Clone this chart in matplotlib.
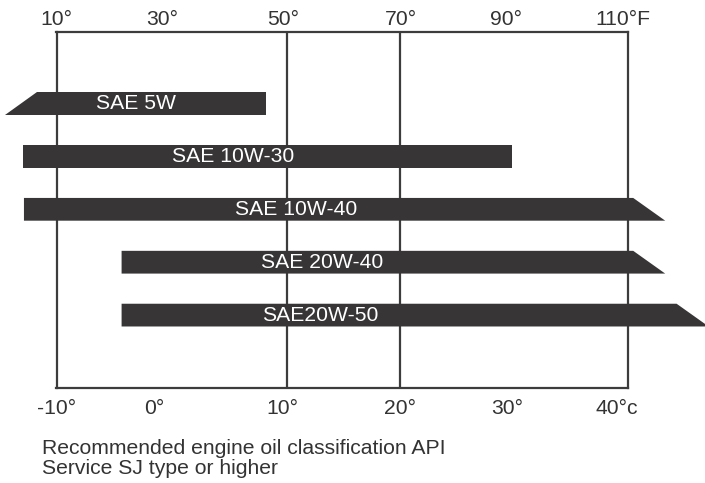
import matplotlib.pyplot as plt
from matplotlib.patches import Polygon

plt.rcParams['font.family'] = ['Liberation Sans', 'DejaVu Sans']

# oil grades and their temperature ranges (deg C)
grades = ['SAE 5W', 'SAE 10W-30', 'SAE 10W-40', 'SAE 20W-40', 'SAE20W-50']
t_low = [-11.7, -12.9, -12.85, -4.3, -4.3]
t_high = [8.35, 29.9, 40.5, 40.5, 44.3]
open_left = [True, False, False, False, False]
open_right = [False, False, True, True, True]

c_labels = ['-10°', '0°', '10°', '20°', '30°', '40°c']
f_labels = ['10°', '30°', '50°', '70°', '90°', '110°F']
grid_c = [10.2, 20.05]
caption = 'Recommended engine oil classification API\nService SJ type or higher'

# layout
c_pos = [-9.96, -1.4, 9.75, 20.08, 29.45, 39.05]
f_pos = [-10.1, -0.85, 9.75, 20.08, 29.36, 39.6]
text_x = [-3.0, 5.45, 10.97, 13.25, 13.07]
bar_h = 0.43
slant = 2.8
dark = '#373536'
line_c = '#3c3c3c'
txt_c = '#333333'
fs = 15.2

W, H = 705, 483
fig = plt.figure(figsize=(W / 100, H / 100), dpi=100)
ax = fig.add_axes([56.5 / W, (H - 388) / H, 571 / W, 356 / H])
ax.set_xlim(-10, 40)
ax.set_ylim(5.378, -1.352)

for s in ax.spines.values():
    s.set_color(line_c)
    s.set_linewidth(1.6)
for x in grid_c:
    ax.axvline(x, color=line_c, lw=1.6, zorder=1)

for i, g in enumerate(grades):
    top, bot = i - bar_h / 2, i + bar_h / 2
    lo, hi = t_low[i], t_high[i]
    lt, lb = (lo, lo - slant) if open_left[i] else (lo, lo)
    rt, rb = (hi, hi + slant) if open_right[i] else (hi, hi)
    poly = Polygon([(lt, top), (rt, top), (rb, bot), (lb, bot)], closed=True,
                   facecolor=dark, edgecolor='none', zorder=3, clip_on=False)
    ax.add_patch(poly)
    ax.text(text_x[i], i, g, color='white', fontsize=fs, ha='center', va='center', zorder=4)

ax.set_yticks([])
ax.set_xticks(c_pos, c_labels)
ax.tick_params(axis='x', length=0, pad=8, labelsize=fs, labelcolor=txt_c)

ax2 = ax.twiny()
ax2.set_xlim(ax.get_xlim())
ax2.set_xticks(f_pos, f_labels)
ax2.tick_params(axis='x', length=0, pad=2, labelsize=fs, labelcolor=txt_c)
for s in ax2.spines.values():
    s.set_visible(False)

fig.text(42 / W, 1 - 439 / H, caption, fontsize=fs, color=txt_c, ha='left', va='top',
         linespacing=1.1)

fig.savefig('out.png', dpi=100)
